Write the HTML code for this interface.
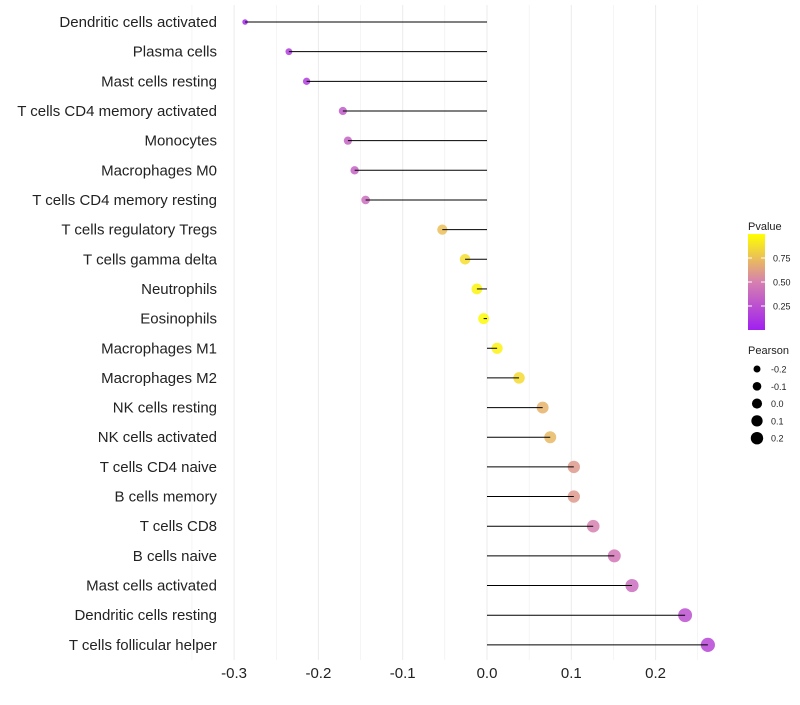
<!DOCTYPE html>
<html><head><meta charset="utf-8"><style>
body{margin:0;background:#fff;font-family:"Liberation Sans",sans-serif}
</style></head><body>
<svg id="chart" width="800" height="700" xmlns="http://www.w3.org/2000/svg"></svg>
<script>
const categories=["Dendritic cells activated","Plasma cells","Mast cells resting","T cells CD4 memory activated","Monocytes","Macrophages M0","T cells CD4 memory resting","T cells regulatory  Tregs ","T cells gamma delta","Neutrophils","Eosinophils","Macrophages M1","Macrophages M2","NK cells resting","NK cells activated","T cells CD4 naive","B cells memory","T cells CD8","B cells naive","Mast cells activated","Dendritic cells resting","T cells follicular helper"];
const pearson=[-0.287,-0.235,-0.214,-0.171,-0.165,-0.157,-0.144,-0.053,-0.026,-0.012,-0.004,0.012,0.038,0.066,0.075,0.103,0.103,0.126,0.151,0.172,0.235,0.262];
const pvalue=[0.05,0.15,0.15,0.3,0.35,0.35,0.4,0.75,0.87,0.96,0.98,0.95,0.86,0.7,0.72,0.6,0.6,0.5,0.45,0.4,0.25,0.2];
const xTicks=[-0.3,-0.2,-0.1,0.0,0.1,0.2];
const xTickLabels=["-0.3","-0.2","-0.1","0.0","0.1","0.2"];
const pTicks=[0.25,0.5,0.75];
const sizeTicks=[-0.2,-0.1,0.0,0.1,0.2];

const NS="http://www.w3.org/2000/svg";
const svg=document.getElementById('chart');
function mk(t,a,parent){const e=document.createElementNS(NS,t);for(const k in a)e.setAttribute(k,a[k]);(parent||svg).appendChild(e);return e;}
const x=v=>487+v*843;
const y=i=>22+i*29.66;
const rad=v=>Math.sqrt(Math.max(2,30+78*v));
function lerp(a,b,t){return a+(b-a)*t;}
const stops=[[0,[160,32,240]],[0.5,[214,128,176]],[1,[255,255,0]]];
function col(p){p=Math.max(0,Math.min(1,p));let i=p<=0.5?0:1;const [p0,c0]=stops[i],[p1,c1]=stops[i+1];const t=(p-p0)/(p1-p0);return `rgb(${c0.map((c,k)=>Math.round(lerp(c,c1[k],t))).join(',')})`;}

for(let v=-0.35;v<=0.26;v+=0.05){const g=mk('line',{x1:x(v),x2:x(v),y1:5,y2:660,stroke:'#ebebeb','stroke-width':Math.abs(Math.round(v*20))%2===0?1:0.5});}
xTicks.forEach((v,i)=>{const t=mk('text',{x:x(v),y:678,'text-anchor':'middle','font-size':15,fill:'#222'});t.textContent=xTickLabels[i];});
categories.forEach((c,i)=>{
 const t=mk('text',{x:217,y:y(i)+5,'text-anchor':'end','font-size':15,fill:'#222'});t.textContent=c;
 
 const d=mk('circle',{cx:x(pearson[i]),cy:y(i),r:rad(pearson[i]),fill:col(pvalue[i]),'fill-opacity':0.85});
 
 const l=mk('line',{x1:x(0),x2:x(pearson[i]),y1:y(i),y2:y(i),stroke:'#000','stroke-width':1});
 
});
const lt=mk('text',{x:748,y:230,'font-size':11,fill:'#222'});lt.textContent='Pvalue';

const defs=mk('defs',{});const gr=mk('linearGradient',{id:'pg',x1:0,y1:1,x2:0,y2:0},defs);
stops.forEach(s=>mk('stop',{offset:s[0],'stop-color':col(s[0])},gr));
const py=p=>330-p*96;
const bar=mk('rect',{x:748,y:py(1),width:17,height:96,fill:'url(#pg)'});

pTicks.forEach(p=>{const t=mk('text',{x:773,y:py(p)+3.5,'font-size':9,fill:'#222'});t.textContent=p.toFixed(2);
 mk('line',{x1:748,x2:752,y1:py(p),y2:py(p),stroke:'#fff'});mk('line',{x1:761,x2:765,y1:py(p),y2:py(p),stroke:'#fff'});});
const st=mk('text',{x:748,y:354,'font-size':11,fill:'#222'});st.textContent='Pearson';

sizeTicks.forEach((v,i)=>{const cy=369+i*17.3;const c=mk('circle',{cx:757,cy:cy,r:rad(v)*0.92,fill:'#000'});
 const t=mk('text',{x:771,y:cy+3.5,'font-size':9,fill:'#222'});t.textContent=v.toFixed(1);});
</script>
</body></html>
